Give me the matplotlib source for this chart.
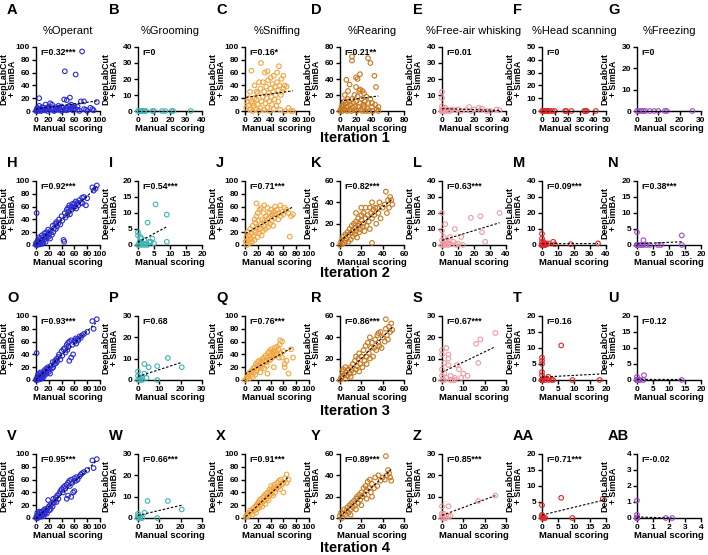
import numpy as np
import matplotlib
matplotlib.use("Agg")
import matplotlib.pyplot as plt

plt.rcParams["font.family"] = ["Liberation Sans", "DejaVu Sans"]
plt.rcParams["font.weight"] = "bold"
plt.rcParams["axes.labelweight"] = "bold"

BEHAVIOURS = ["%Operant", "%Grooming", "%Sniffing", "%Rearing",
              "%Free-air whisking", "%Head scanning", "%Freezing"]
COLORS = ["#2b2bd6", "#3fb5b5", "#f2a640", "#c8781e", "#f09aa0", "#e4262a", "#a04cc6"]

# ---- iteration 1 ----
A_X = [0, 1, 2, 3, 4, 5, 6, 8, 10, 12, 14, 15, 18, 20, 22, 25, 28, 30, 32, 35, 38, 40, 42, 44, 45, 46, 48,
       50, 52, 53, 55, 58, 60, 62, 65, 68, 70, 72, 75, 78, 80, 85, 88, 90, 95, 5, 10, 15, 20, 25, 30, 35, 40,
       48, 55, 60, 2, 7, 17, 27, 37, 47, 57, 65, 75]
A_Y = [0, 2, 1, 0, 3, 20, 1, 0, 2, 5, 1, 3, 0, 4, 12, 2, 0, 1, 3, 8, 2, 0, 5, 18, 62, 3, 17,
       2, 8, 21, 10, 1, 4, 57, 2, 0, 15, 93, 15, 2, 0, 5, 3, 1, 14, 8, 6, 10, 7, 10, 6, 2, 7,
       5, 4, 8, 5, 3, 5, 4, 5, 1, 6, 7, 3]
B_X = [0, 1, 2, 3, 4, 5, 9, 10, 15, 17, 21, 22, 33]
B_Y = [0, 0, 0, 0, 0, 0, 0, 0, 0, 0, 0, 0, 0]
C_X = [2, 3, 5, 6, 8, 8, 10, 10, 12, 12, 14, 15, 15, 16, 18, 18, 20, 20, 22, 22, 24, 24, 25, 26, 28, 28,
       30, 30, 31, 32, 33, 34, 35, 36, 37, 38, 39, 40, 40, 41, 42, 43, 44, 45, 45, 46, 47, 48, 49, 50, 50,
       52, 52, 54, 55, 56, 57, 58, 60, 62, 63, 65, 68, 72, 75, 60, 53, 35]
C_Y = [5, 15, 8, 20, 2, 30, 15, 63, 0, 12, 8, 20, 40, 3, 18, 30, 10, 28, 0, 45, 5, 35, 75, 15, 22, 45,
       2, 30, 60, 12, 38, 20, 5, 48, 28, 15, 0, 35, 52, 22, 10, 42, 30, 55, 3, 18, 38, 25, 8, 45, 60,
       32, 15, 40, 2, 25, 50, 30, 35, 40, 0, 38, 5, 0, 0, 55, 70, 62]
D_X = [0, 1, 2, 3, 4, 5, 6, 7, 8, 8, 9, 10, 10, 11, 12, 12, 13, 14, 15, 15, 15, 16, 17, 18, 18, 19, 20,
       20, 20, 21, 22, 22, 23, 24, 25, 25, 25, 26, 27, 28, 28, 29, 30, 30, 31, 32, 33, 34, 35, 35, 36, 38,
       38, 40, 40, 41, 43, 44, 45, 46, 48, 48, 5, 3, 6, 10]
D_Y = [0, 2, 5, 0, 8, 3, 1, 10, 39, 4, 0, 25, 6, 12, 2, 33, 8, 0, 68, 63, 15, 4, 10, 1, 20, 6, 42,
       30, 12, 0, 40, 18, 5, 25, 46, 10, 27, 2, 15, 25, 0, 8, 22, 5, 12, 0, 18, 3, 66, 10, 0, 60,
       15, 5, 10, 0, 44, 8, 30, 2, 5, 0, 12, 5, 20, 15]
E_X = [0, 0, 0, 0, 1, 2, 3, 5, 6, 8, 10, 12, 15, 17, 18, 20, 23, 24, 25, 28, 30, 34, 36, 4, 1, 2,
       0, 0, 0, 0, 0, 0, 0, 0]
E_Y = [12, 8, 3, 1, 0, 2, 1, 0, 1, 0.5, 1, 0, 0.5, 2.5, 0, 1, 2, 0.5, 1.5, 0, 0, 1, 0.5, 0, 1, 0,
       0, 0, 0, 0, 0, 0, 0, 0]
F_X = [0, 1, 2, 3, 4, 5, 6, 8, 10, 18, 19, 23, 33, 34, 35, 42]
F_Y = [0, 0, 0, 0, 0, 0, 0, 0, 0, 0, 0, 0, 0, 0, 0, 0]
G_X = [0, 1, 2, 3, 4, 6, 8, 10, 13, 14, 26]
G_Y = [0, 0, 0, 0, 0, 0, 0, 0, 0, 0, 0]

# ---- iteration 2 ----
H_X = [0, 1, 2, 1, 3, 4, 5, 6, 7, 8, 9, 10, 11, 12, 13, 14, 15, 16, 17, 18, 19, 20, 21, 22, 23, 25, 26,
       27, 28, 30, 31, 32, 33, 35, 36, 38, 40, 41, 43, 44, 45, 46, 48, 49, 50, 51, 52, 53, 55, 56, 57, 58,
       60, 61, 62, 63, 65, 66, 68, 70, 72, 73, 75, 78, 80, 88, 90, 93, 95, 2, 3, 5, 7, 10, 15, 0]
H_Y = [0, 2, 5, 50, 8, 3, 12, 1, 10, 6, 15, 8, 4, 12, 18, 9, 14, 20, 11, 16, 24, 13, 18, 10, 22, 16, 30,
       20, 26, 33, 25, 36, 29, 34, 40, 32, 45, 38, 8, 5, 50, 43, 55, 47, 58, 52, 62, 48, 60, 55, 64, 58,
       65, 60, 68, 57, 66, 62, 70, 66, 74, 65, 75, 62, 73, 90, 85, 88, 93, 0, 1, 4, 2, 2, 5, 3]
I_X = [0, 0, 0, 0.5, 1, 1, 1.5, 2, 2, 2.5, 3, 3, 3.5, 4, 4.5, 5, 5.5, 9, 9, 0.3, 1.2, 0.8]
I_Y = [4, 3, 0, 1, 2, 0, 0.5, 1.5, 0, 0.3, 7, 0, 1, 1, 2, 0.5, 12.7, 9.5, 1, 0.2, 0.8, 2.5]
J_X = [1, 2, 3, 4, 5, 6, 7, 8, 9, 10, 11, 12, 13, 14, 15, 16, 17, 18, 18, 19, 20, 21, 22, 23, 24, 25, 26,
       27, 28, 29, 30, 31, 32, 33, 34, 35, 36, 37, 38, 39, 40, 41, 42, 43, 44, 45, 46, 47, 48, 50, 52, 53,
       55, 56, 58, 60, 62, 65, 68, 70, 72, 75, 20, 25, 15, 30]
J_Y = [5, 12, 0, 20, 8, 15, 3, 25, 10, 18, 5, 30, 14, 22, 8, 35, 20, 45, 65, 12, 28, 38, 18, 55, 25, 32, 15,
       40, 22, 50, 30, 38, 25, 45, 35, 58, 28, 42, 50, 33, 45, 55, 38, 48, 30, 52, 42, 60, 48, 55, 40, 50,
       62, 45, 52, 48, 58, 55, 50, 13, 45, 48, 50, 58, 40, 62]
K_X = [0, 1, 2, 2, 3, 4, 5, 5, 6, 7, 8, 8, 9, 10, 10, 11, 12, 12, 13, 14, 14, 15, 15, 16, 17, 17, 18, 18,
       19, 20, 20, 21, 22, 22, 23, 24, 24, 25, 26, 27, 28, 28, 29, 30, 30, 31, 32, 33, 34, 35, 36, 37, 38,
       40, 42, 43, 44, 45, 46, 47, 48, 49, 30, 20, 15]
K_Y = [0, 3, 5, 1, 8, 2, 10, 4, 6, 12, 3, 9, 15, 5, 11, 18, 8, 14, 20, 10, 16, 22, 13, 7, 18, 25, 12, 20,
       15, 23, 28, 17, 20, 30, 13, 25, 35, 18, 28, 22, 35, 15, 30, 25, 2, 33, 28, 35, 20, 35, 30, 40, 25,
       35, 38, 50, 30, 42, 35, 45, 42, 38, 40, 35, 30]
L_X = [0, 0, 0, 0, 1, 1, 2, 2, 3, 3, 4, 5, 6, 7, 8, 9, 10, 12, 13, 18, 24, 25, 27, 36, 1, 2, 4]
L_Y = [20, 9, 3, 0, 1, 5, 13, 0, 3, 1, 0, 5, 0.5, 2, 10, 0, 1, 5, 0, 17, 18, 8, 2, 20, 0, 2, 1]
M_X = [0, 0, 0, 0, 0.5, 1, 1, 2, 2, 3, 4, 7, 8, 18, 35, 1.5, 0, 0, 0, 0, 0, 0, 0, 0, 0, 0]
M_Y = [7, 4, 2, 0, 0.5, 2, 0, 1, 0, 0.5, 1, 2, 0.5, 0.5, 1, 0, 0, 0, 0, 0, 0, 0, 0, 0, 0, 0]
N_X = [0, 0, 1, 1.5, 2, 2, 3, 4, 6.5, 7.5, 14, 14, 0, 0, 0, 0]
N_Y = [4, 0, 0, 0, 1.5, 0, 0, 0, 0, 0, 3, 0, 0, 0, 0, 0]

# ---- iteration 3 ----
O_X = [0, 1, 1, 2, 3, 4, 5, 6, 7, 8, 9, 10, 11, 12, 13, 14, 15, 16, 17, 18, 19, 20, 21, 22, 23, 25, 26,
       27, 28, 30, 31, 32, 33, 35, 36, 38, 40, 41, 43, 45, 46, 48, 49, 50, 51, 52, 52, 55, 55, 57, 58, 60,
       61, 62, 63, 65, 66, 68, 70, 72, 75, 80, 88, 90, 95, 2, 5, 8, 12]
O_Y = [0, 2, 42, 5, 8, 3, 10, 1, 12, 6, 9, 4, 10, 12, 15, 8, 12, 18, 10, 16, 20, 13, 18, 10, 22, 18, 28,
       20, 25, 30, 26, 33, 29, 36, 40, 32, 45, 38, 48, 50, 43, 55, 47, 58, 52, 60, 30, 62, 35, 55, 40, 62,
       60, 65, 57, 64, 62, 68, 66, 70, 72, 75, 92, 80, 95, 0, 4, 2, 5]
P_X = [0, 0, 0, 1, 1, 2, 2, 3, 3, 4, 5, 9, 9, 14, 20.5]
P_Y = [4, 2, 0, 0, 1, 1, 0, 7.5, 3, 1, 6, 6.5, 0, 10.3, 6]
Q_X = [0, 2, 4, 5, 6, 8, 10, 11, 12, 13, 14, 15, 16, 17, 18, 19, 20, 21, 22, 23, 24, 25, 26, 27, 28, 29,
       30, 31, 32, 33, 34, 35, 36, 37, 38, 39, 40, 41, 42, 43, 44, 45, 46, 47, 48, 50, 51, 52, 53, 54, 55,
       56, 58, 58, 60, 62, 62, 65, 68, 72, 75, 45, 35]
Q_Y = [0, 3, 5, 10, 2, 12, 8, 15, 5, 18, 12, 20, 8, 25, 15, 22, 28, 18, 30, 22, 12, 28, 20, 32, 25, 35,
       18, 30, 38, 28, 22, 35, 42, 30, 45, 38, 32, 48, 40, 35, 45, 42, 50, 38, 45, 52, 40, 48, 35, 55, 62,
       42, 60, 35, 45, 25, 20, 30, 10, 48, 35, 20, 10]
R_X = [0, 1, 2, 2, 3, 4, 5, 5, 6, 7, 8, 9, 10, 10, 11, 12, 13, 14, 15, 15, 16, 17, 18, 18, 19, 20, 21, 22,
       23, 24, 25, 25, 26, 27, 28, 28, 29, 30, 31, 32, 33, 34, 35, 36, 37, 38, 39, 40, 42, 43, 44, 45, 46,
       47, 48, 43, 49, 36]
R_Y = [0, 2, 8, 3, 10, 5, 1, 12, 7, 4, 10, 6, 12, 3, 9, 15, 7, 18, 10, 22, 13, 20, 8, 25, 15, 22, 12, 28,
       18, 32, 22, 15, 35, 25, 20, 40, 30, 35, 22, 30, 38, 28, 42, 35, 32, 45, 30, 40, 36, 48, 42, 38, 50,
       45, 53, 57, 47, 44]
S_X = [0, 0, 0, 0, 0, 1, 1, 1, 2, 2, 3, 3, 3, 4, 4, 5, 6, 6, 7, 8, 9, 10, 12, 16, 17, 18, 25]
S_Y = [14, 12, 5, 2, 0, 3, 8, 0, 15, 1, 12, 10, 7, 2, 0, 0, 1, 0, 7, 5, 1, 3, 2, 17, 8, 19, 22]
T_X = [0, 0, 0, 0, 0, 0, 0.5, 1, 2, 2, 3, 3.5, 6, 9.5, 18,
       0, 0, 0, 0, 0, 0, 0, 0, 0, 0, 0, 0, 0, 0, 0, 0, 0, 0, 0, 0]
T_Y = [7, 6, 5, 2.5, 1.5, 0, 0.5, 0, 1, 0, 0, 0, 10.8, 0, 0,
       0, 0, 0, 0, 0, 0, 0, 0, 0, 0, 0, 0, 0, 0, 0, 0, 0, 0, 0, 0]
U_X = [0, 0, 0.5, 1, 2, 2.2, 14, 0, 0, 0, 0, 0, 0]
U_Y = [0, 1, 0, 0, 0, 1.5, 0, 0, 0, 0, 0, 0, 0]

# ---- iteration 4 ----
V_X = [0, 1, 2, 3, 4, 5, 6, 7, 8, 9, 10, 11, 12, 13, 14, 15, 16, 17, 18, 19, 20, 21, 22, 23, 25, 26, 27,
       28, 30, 31, 32, 33, 35, 36, 38, 40, 42, 43, 45, 46, 48, 48, 50, 50, 52, 53, 55, 55, 57, 58, 60, 60,
       62, 63, 65, 68, 70, 72, 75, 80, 88, 90, 95, 3, 8, 12]
V_Y = [0, 3, 8, 1, 6, 10, 4, 8, 2, 10, 5, 9, 12, 6, 14, 8, 12, 7, 15, 28, 18, 12, 20, 14, 22, 18, 30,
       24, 28, 32, 25, 35, 30, 38, 42, 45, 40, 48, 50, 46, 52, 30, 55, 35, 58, 50, 60, 33, 55, 40, 62, 42,
       58, 64, 60, 65, 68, 70, 72, 75, 90, 78, 92, 0, 5, 3]
W_X = [0, 0, 0, 1, 1, 2, 3, 4.5, 9, 14, 20.5]
W_Y = [2, 1, 0, 0, 0.5, 0, 2.5, 8, 0, 8, 4]
X_X = [1, 3, 5, 7, 8, 10, 12, 13, 15, 16, 17, 18, 19, 20, 21, 22, 23, 24, 25, 26, 27, 28, 29, 30, 31, 32,
       33, 34, 35, 36, 37, 38, 39, 40, 41, 42, 43, 44, 45, 46, 47, 48, 50, 52, 53, 54, 55, 56, 58, 60, 62,
       65, 68, 65, 60]
X_Y = [2, 5, 3, 8, 12, 10, 6, 15, 12, 18, 8, 20, 14, 22, 25, 16, 28, 20, 30, 24, 18, 32, 26, 35, 28, 22,
       38, 30, 34, 40, 28, 44, 36, 42, 50, 38, 46, 35, 48, 52, 40, 45, 55, 48, 58, 50, 45, 60, 52, 55, 62,
       68, 60, 55, 40]
Y_X = [0, 1, 2, 3, 4, 5, 6, 7, 8, 9, 10, 11, 12, 13, 14, 15, 15, 16, 17, 18, 19, 20, 20, 21, 22, 23, 24,
       25, 25, 26, 27, 28, 29, 30, 32, 33, 35, 36, 38, 40, 42, 43, 44, 45, 46, 47, 48, 30, 10]
Y_Y = [2, 5, 0, 4, 8, 3, 7, 10, 5, 12, 8, 14, 10, 16, 12, 18, 8, 20, 14, 22, 17, 24, 12, 20, 28, 22, 30,
       26, 18, 34, 28, 36, 24, 32, 28, 38, 30, 40, 35, 38, 36, 58, 40, 45, 42, 38, 35, 20, 3]
Z_X = [0, 0, 0, 0, 1, 1, 2, 2, 3, 3, 4, 17, 25]
Z_Y = [5.5, 2, 1, 0, 0, 2, 1, 0, 5.5, 1, 1, 8, 10.5]
AA_X = [0, 0, 0, 0, 0.5, 0.5, 1, 6, 9.5, 19]
AA_Y = [4, 1, 0.5, 0, 0, 0.3, 0, 6.3, 0, 6]
AB_X = [0, 0, 0, 1.8, 2.2, 0, 0, 0, 0, 0, 0, 0, 0, 0, 0, 0, 0, 0, 0, 0, 0]
AB_Y = [1.1, 0.2, 0, 0, 0, 0, 0, 0, 0, 0, 0, 0, 0, 0, 0, 0, 0, 0, 0, 0, 0]

R_TEXT = [
    ["r=0.32***", "r=0", "r=0.16*", "r=0.21**", "r=0.01", "r=0", "r=0"],
    ["r=0.92***", "r=0.54***", "r=0.71***", "r=0.82***", "r=0.63***", "r=0.09***", "r=0.38***"],
    ["r=0.93***", "r=0.68", "r=0.76***", "r=0.86***", "r=0.67***", "r=0.16", "r=0.12"],
    ["r=0.95***", "r=0.66***", "r=0.91***", "r=0.89***", "r=0.85***", "r=0.71***", "r=-0.02"],
]
LETTERS = [["A", "B", "C", "D", "E", "F", "G"],
           ["H", "I", "J", "K", "L", "M", "N"],
           ["O", "P", "Q", "R", "S", "T", "U"],
           ["V", "W", "X", "Y", "Z", "AA", "AB"]]
DATA = [[(A_X, A_Y), (B_X, B_Y), (C_X, C_Y), (D_X, D_Y), (E_X, E_Y), (F_X, F_Y), (G_X, G_Y)],
        [(H_X, H_Y), (I_X, I_Y), (J_X, J_Y), (K_X, K_Y), (L_X, L_Y), (M_X, M_Y), (N_X, N_Y)],
        [(O_X, O_Y), (P_X, P_Y), (Q_X, Q_Y), (R_X, R_Y), (S_X, S_Y), (T_X, T_Y), (U_X, U_Y)],
        [(V_X, V_Y), (W_X, W_Y), (X_X, X_Y), (Y_X, Y_Y), (Z_X, Z_Y), (AA_X, AA_Y), (AB_X, AB_Y)]]
# axis (max, step) per panel, same for x and y
LIMITS = [[(100, 20), (40, 10), (100, 20), (80, 20), (40, 10), (50, 10), (30, 10)],
          [(100, 20), (20, 5), (100, 20), (60, 20), (40, 10), (40, 10), (20, 5)],
          [(100, 20), (30, 10), (100, 20), (60, 20), (30, 10), (20, 5), (20, 5)],
          [(100, 20), (30, 10), (100, 20), (60, 20), (30, 10), (20, 5), (4, 1)]]

W, H = 708, 555
COL_LEFT = [36, 138, 245, 340, 442, 542, 637]
ROW_TOP = [47, 181, 316, 454]
AX_W, AX_H = 64, 64

fig = plt.figure(figsize=(W / 100, H / 100), dpi=100)

for r in range(4):
    for c in range(7):
        x0, y0 = COL_LEFT[c], ROW_TOP[r]
        ax = fig.add_axes([x0 / W, 1 - (y0 + AX_H) / H, AX_W / W, AX_H / H])
        xs, ys = map(np.asarray, DATA[r][c])
        lim, step = LIMITS[r][c]
        ax.scatter(xs, ys, s=11, facecolors="none", edgecolors=COLORS[c], linewidths=0.8,
                   clip_on=False, zorder=3)
        k, b = np.polyfit(xs, ys, 1)
        xl = np.array([xs.min(), xs.max()])
        ax.plot(xl, k * xl + b, ls=(0, (2.2, 1.6)), color="black", lw=0.8, zorder=4, clip_on=False)
        ax.set_xlim(0, lim)
        ax.set_ylim(0, lim)
        ticks = np.arange(0, lim + step / 2, step)
        ax.set_xticks(ticks)
        ax.set_yticks(ticks)
        ax.spines[["top", "right"]].set_visible(False)
        for s in ("left", "bottom"):
            ax.spines[s].set_linewidth(1.0)
        ax.tick_params(direction="out", length=3, width=1, labelsize=6, pad=1.2)
        ax.set_xlabel("Manual scoring", fontsize=6.8)
        ax.xaxis.set_label_coords(0.5, -13 / AX_H)
        ax.set_ylabel("DeepLabCut\n+ SimBA", fontsize=6.3, linespacing=1.0)
        ax.yaxis.set_label_coords(-19 / AX_W, 0.5)
        ax.text(0.07, 0.92, R_TEXT[r][c], transform=ax.transAxes, fontsize=6.2, va="center", ha="left")
        if r == 0:
            ax.set_title(BEHAVIOURS[c], fontsize=8, pad=9)
            ly = 10
        else:
            ly = y0 - 18
        fig.text((x0 - 29) / W, 1 - ly / H, LETTERS[r][c], fontsize=10.5, ha="left", va="center")

for r, yc in enumerate([138, 273, 411, 548]):
    fig.text(355 / W, 1 - yc / H, f"Iteration {r + 1}", fontsize=10.5, ha="center", va="center")

fig.savefig("out.png", dpi=100)
